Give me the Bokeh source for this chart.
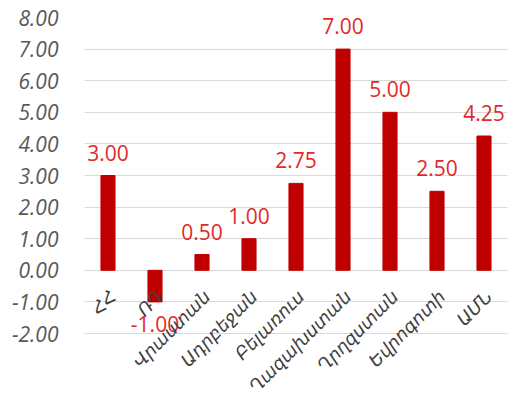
import math
from bokeh.plotting import figure
from bokeh.models import ColumnDataSource, LabelSet, FactorRange, Range1d, FixedTicker, NumeralTickFormatter
from bokeh.core.properties import value
from bokeh.embed import file_html
from bokeh.resources import INLINE

categories = ["ՀՀ", "ՌԴ", "Վրաստան", "Ադրբեջան", "Բելառուս", "Ղազախստան", "Ղրղզստան", "Եվրոգոտի", "ԱՄՆ"]
values = [3.00, -1.00, 0.50, 1.00, 2.75, 7.00, 5.00, 2.50, 4.25]
y_ticks = [-2, -1, 0, 1, 2, 3, 4, 5, 6, 7, 8]

BAR = "#C00000"
LABEL_RED = "#E02A2A"
TICK_GRAY = "#595959"

# frame spans the full lower area so category labels (drawn in data space) are not clipped
TOP_PX = 17
PX_PER_UNIT = 31.6
H = 399
y_top = max(y_ticks)
y_bottom = y_top - (H - TOP_PX) / PX_PER_UNIT

p = figure(width=511, height=H, x_range=FactorRange(*categories, range_padding=0),
           y_range=Range1d(y_bottom, y_top), output_backend="svg", toolbar_location=None,
           min_border_left=84, min_border_right=4, min_border_top=TOP_PX, min_border_bottom=0)
p.outline_line_color = None
p.background_fill_color = "white"
p.border_fill_color = "white"

src = ColumnDataSource(dict(cat=categories, val=values, zero=[0] * len(categories)))
p.vbar(x="cat", top="val", bottom=0, width=0.3, color=BAR, source=src)

p.xaxis.visible = False
p.xgrid.grid_line_color = None
p.ygrid.grid_line_color = "#D9D9D9"
p.ygrid.grid_line_width = 1
p.ygrid.ticker = FixedTicker(ticks=y_ticks)

ax = p.yaxis[0]
ax.ticker = FixedTicker(ticks=y_ticks)
ax.formatter = NumeralTickFormatter(format="0.00")
ax.axis_line_color = None
ax.major_tick_line_color = None
ax.minor_tick_line_color = None
ax.major_label_text_font = "Open Sans"
ax.major_label_text_font_style = "italic"
ax.major_label_text_font_size = "21px"
ax.major_label_text_color = TICK_GRAY
ax.major_label_standoff = 20

pos = [i for i, v in enumerate(values) if v >= 0]
neg = [i for i, v in enumerate(values) if v < 0]
src_pos = ColumnDataSource(dict(cat=[categories[i] for i in pos], val=[values[i] for i in pos],
                                lbl=["{:.2f}".format(values[i]) for i in pos]))
src_neg = ColumnDataSource(dict(cat=[categories[i] for i in neg], val=[values[i] for i in neg],
                                lbl=["{:.2f}".format(values[i]) for i in neg]))

p.add_layout(LabelSet(x="cat", y="val", text="lbl", source=src_pos, text_align="center",
                      text_baseline="alphabetic", y_offset=15, text_font=value("Open Sans"),
                      text_font_size=value("21px"), text_color=LABEL_RED))
p.add_layout(LabelSet(x="cat", y="val", text="lbl", source=src_neg, text_align="center",
                      text_baseline="top", y_offset=-14, text_font=value("Open Sans"),
                      text_font_size=value("21px"), text_color=LABEL_RED))

p.add_layout(LabelSet(x="cat", y="zero", text="cat", source=src, text_align="right",
                      text_baseline="middle", angle=math.pi / 4, x_offset=5, y_offset=-23,
                      text_font=value("DejaVu Sans"), text_font_style="italic",
                      text_font_size=value("18px"), text_color="#404040"))

open("out.html", "w").write(file_html(p, INLINE))
